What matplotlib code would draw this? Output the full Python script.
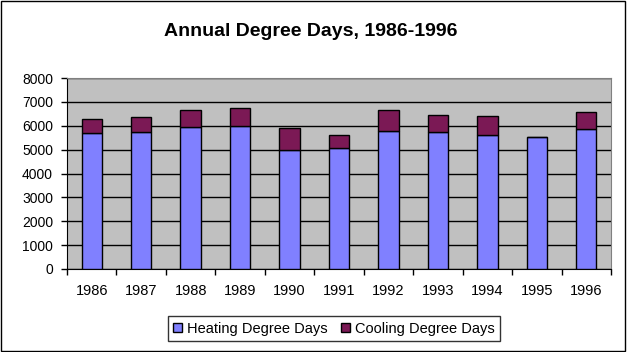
import numpy as np
import matplotlib
matplotlib.use('Agg')
import matplotlib.pyplot as plt
from matplotlib.patches import Rectangle

plt.rcParams['font.family'] = ['Liberation Sans', 'DejaVu Sans']

years = ['1986', '1987', '1988', '1989', '1990', '1991',
         '1992', '1993', '1994', '1995', '1996']
heating = [5700, 5740, 5950, 6000, 4990, 5070, 5780, 5740, 5615, 5530, 5865]
cooling = [590, 630, 710, 750, 920, 545, 880, 715, 795, 0, 710]

heat_col = '#8080ff'
cool_col = '#7b1955'

fig = plt.figure(figsize=(6.27, 3.52), dpi=100)
fig.patch.set_facecolor('white')
fig.patches.append(Rectangle((0.0015, 0.003), 0.9955, 0.993, transform=fig.transFigure,
                             fill=False, edgecolor='black', linewidth=1))

ax = fig.add_axes([67/627, (352-269)/352, 544/627, 191/352])
ax.set_facecolor('#c0c0c0')
ax.set_axisbelow(True)

x = np.arange(len(years))
w = 0.41
ax.bar(x, heating, w, color=heat_col, edgecolor='black', linewidth=1,
       label='Heating Degree Days', zorder=3)
ax.bar(x, cooling, w, bottom=heating, color=cool_col, edgecolor='black',
       linewidth=1, label='Cooling Degree Days', zorder=3)

ax.set_xlim(-0.5, len(years) - 0.5)
ax.set_ylim(0, 8000)
ax.set_yticks(range(0, 8001, 1000))
ax.yaxis.grid(True, color='black', linewidth=1)
ax.tick_params(axis='y', direction='out', length=4.5, width=1, labelsize=10, pad=5.5)

# ticks sit between the years, labels in the middle
ax.set_xticks(np.arange(-0.5, len(years), 1))
ax.set_xticklabels([])
ax.set_xticks(x, minor=True)
ax.set_xticklabels(years, minor=True)
ax.tick_params(axis='x', which='major', direction='out', length=4, width=1)
ax.tick_params(axis='x', which='minor', length=0, labelsize=10.5, pad=11)

for s in ['top', 'right']:
    ax.spines[s].set_color('#808080')
for s in ['left', 'bottom']:
    ax.spines[s].set_color('black')

fig.text(311/627, 1 - 31/352, 'Annual Degree Days, 1986-1996', ha='center', va='center',
         fontsize=14, fontweight='bold')

leg = fig.legend(loc='center', bbox_to_anchor=(334/627, 1 - 328.5/352), ncol=2,
                 fontsize=10.5, frameon=True, fancybox=False, edgecolor='black',
                 handlelength=0.6, handleheight=0.6, handletextpad=0.35,
                 columnspacing=0.9, borderpad=0.35)
leg.get_frame().set_linewidth(1)

fig.savefig('out.png', dpi=100)
